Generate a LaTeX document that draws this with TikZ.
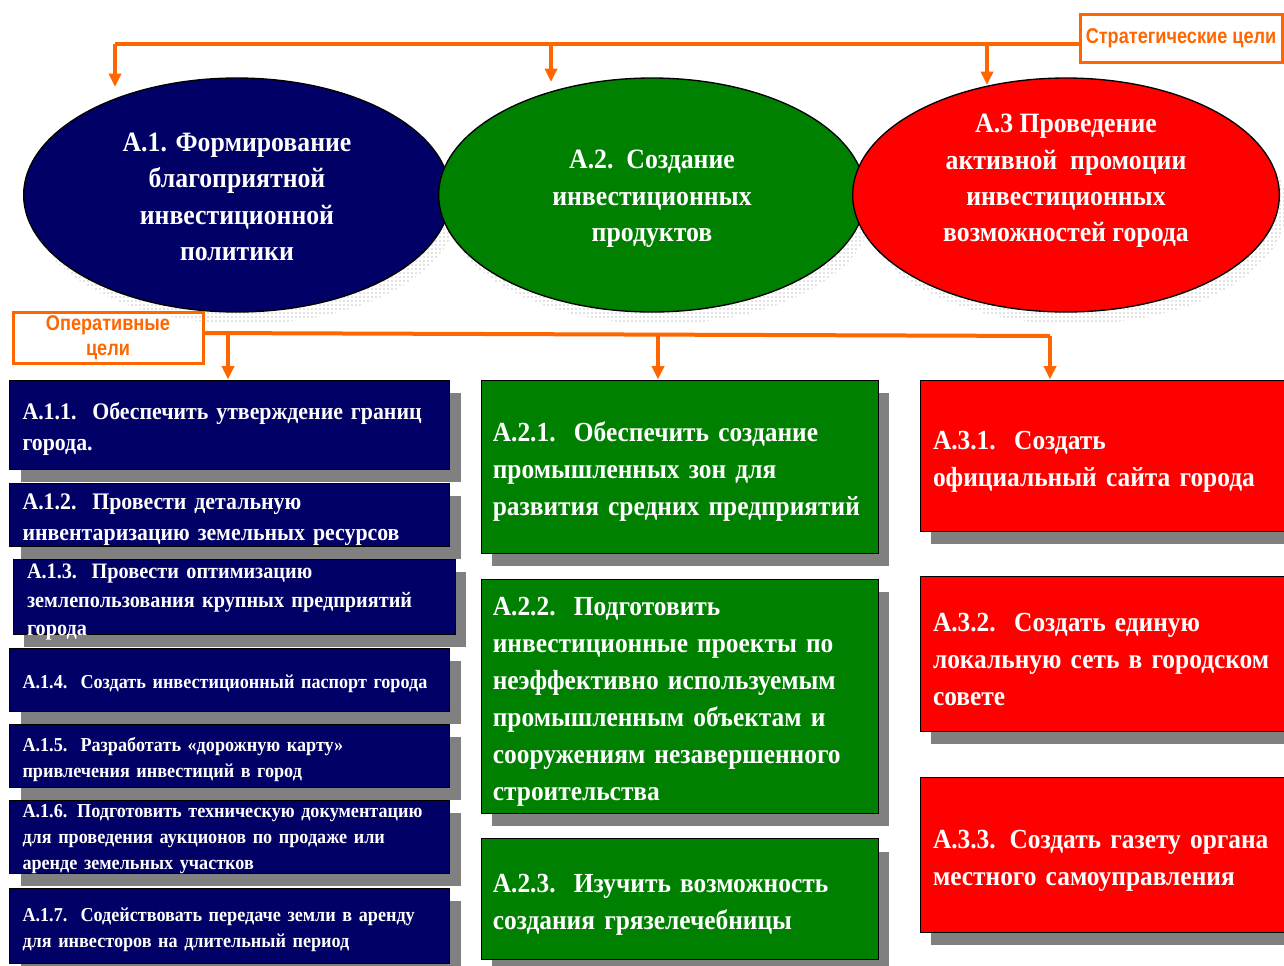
\documentclass[tikz,border=0pt]{standalone}
\usepackage{fontspec}
\setmainfont{Liberation Serif}[FakeStretch=0.92]
\newfontfamily\labelfont[FakeStretch=0.85]{Liberation Sans}
\usetikzlibrary{shapes.geometric,shadows,patterns,arrows.meta}

\definecolor{navy}{RGB}{0,0,102}
\definecolor{leaf}{RGB}{0,128,0}
\definecolor{scarlet}{RGB}{255,0,0}
\definecolor{tangerine}{RGB}{255,102,0}
\definecolor{shade}{RGB}{128,128,128}

\tikzset{
  aim/.style={ellipse, draw=black, line width=1pt, text=white, align=center,
    minimum width=320pt, minimum height=175.5pt,
    font=\bfseries\fontsize{21}{27.25}\selectfont},
  aimtext/.style={text=white, align=center, font=\bfseries\fontsize{21}{27.25}\selectfont},
  goal/.style={rectangle, draw=black, line width=0.75pt, inner sep=0pt, text=white,
    align=left, execute at begin node={\rule{0pt}{1.1em}},
    drop shadow={shadow xshift=8.25pt, shadow yshift=-9.75pt, fill=shade, opacity=1}},
  navygoal/.style={goal, fill=navy, minimum width=330pt, text width=310.5pt},
  leafgoal/.style={goal, fill=leaf, minimum width=297.75pt, text width=280pt,
    font=\bfseries\fontsize{20.7}{27.75}\selectfont},
  redgoal/.style={goal, fill=scarlet, minimum width=285pt, text width=265.5pt,
    font=\bfseries\fontsize{20.7}{27.75}\selectfont},
  goaltext/.style={text=white, align=left, text width=310.5pt, inner sep=0pt},
  bigtxt/.style={font=\bfseries\fontsize{17.8}{23.75}\selectfont},
  smalltxt/.style={font=\bfseries\fontsize{14.8}{19.75}\selectfont},
  tag/.style={rectangle, draw=tangerine, line width=2.25pt, text=tangerine, align=center,
    inner sep=0pt, font=\labelfont\bfseries\fontsize{16}{18.75}\selectfont},
  feed/.style={draw=tangerine, line width=3pt},
  feeder/.style={feed, -{Triangle[length=10pt,width=9pt]}}
}

\begin{document}
\begin{tikzpicture}[x=0.75pt,y=-0.75pt]
  \useasboundingbox (0,0) rectangle (1284,965);
  \clip (0,0) rectangle (1284,965);

  % shadows of the strategic goals
  \foreach \cx in {237,652,1066}
    \fill[pattern=dots, pattern color=shade] (\cx+8,207) ellipse (213 and 117);

  % strategic goals
  \node[aim, fill=navy] (a1) at (237,195) {};
  \node[aimtext] (a1txt) at ([yshift=-1.5pt]a1.center)
    {А.1. Формирование\\благоприятной\\инвестиционной\\политики};
  \node[aim, fill=leaf] (a2) at (652,195) {};
  \node[aimtext] (a2txt) at ([yshift=-3pt]a2.center)
    {А.2.\ \ Создание\\инвестиционных\\продуктов};
  \node[aim, fill=scarlet] (a3) at (1066,195) {};
  \node[aimtext] (a3txt) at ([yshift=10.5pt]a3.center)
    {А.3 Проведение\\активной\ \ промоции\\инвестиционных\\возможностей города};

  % labels
  \node[tag, minimum width=151.5pt, minimum height=36pt] (strat) at (1181,38)
    {Стратегические цели};
  \node[tag, minimum width=142.5pt, minimum height=38.25pt] (oper) at (108,337.5)
    {Оперативные\\цели};

  % top arrows
  \coordinate (sbar) at (1080,44);
  \coordinate (s1) at (115,44);
  \coordinate (s2) at (551,44);
  \coordinate (s3) at (987,44);
  \coordinate (t1) at (115,87);
  \coordinate (t2) at (551,82);
  \coordinate (t3) at (987,85);
  \draw[feed] (strat.west |- sbar) -- (s1);
  \foreach \i in {1,2,3}
    \draw[feeder] (s\i) -- (t\i);

  % operative goals, column A.1
  \node[navygoal, bigtxt, minimum height=89*0.75pt] (a11) at (229.5,424.5)
    {А.1.1.\ \ Обеспечить утверждение границ\\города.};
  \node[navygoal, bigtxt, minimum height=63*0.75pt] (a12) at (229.5,514.5)
    {А.1.2.\ \ Провести детальную\\инвентаризацию земельных ресурсов};
  \node[navygoal, minimum width=331.5pt, minimum height=75*0.75pt] (a13) at (234,596.5) {};
  \node[goaltext, font=\bfseries\fontsize{16.5}{21.4}\selectfont] (a13txt) at ([yshift=-4.5pt]a13.center)
    {А.1.3.\ \ Провести оптимизацию\\землепользования крупных предприятий\\города};
  \node[navygoal, smalltxt, minimum height=63*0.75pt] (a14) at (229.5,679.5)
    {А.1.4.\ \ Создать инвестиционный паспорт города};
  \node[navygoal, smalltxt, minimum height=63*0.75pt] (a15) at (229.5,755.5)
    {А.1.5.\ \ Разработать «дорожную карту»\\привлечения инвестиций в город};
  \node[navygoal, minimum height=73*0.75pt] (a16) at (229.5,836.5) {};
  \node[goaltext, smalltxt] (a16txt) at ([yshift=-2pt]a16.center)
    {А.1.6. Подготовить техническую документацию\\для проведения аукционов по продаже или\\аренде земельных участков};
  \node[navygoal, smalltxt, minimum height=75*0.75pt] (a17) at (229.5,925.5)
    {А.1.7.\ \ Содействовать передаче земли в аренду\\для инвесторов на длительный период};

  % column A.2
  \node[leafgoal, minimum height=173*0.75pt] (a21) at (679.5,466.5)
    {А.2.1.\ \ Обеспечить создание\\промышленных зон для\\развития средних предприятий};
  \node[leafgoal, minimum height=234*0.75pt] (a22) at (679.5,696)
    {А.2.2.\ \ Подготовить\\инвестиционные проекты по\\неэффективно используемым\\промышленным объектам и\\сооружениям незавершенного\\строительства};
  \node[leafgoal, minimum height=121*0.75pt] (a23) at (679.5,899)
    {А.2.3.\ \ Изучить возможность\\создания грязелечебницы};

  % column A.3
  \node[redgoal, minimum height=151*0.75pt] (a31) at (1110,455.5)
    {А.3.1.\ \ Создать\\официальный сайта города};
  \node[redgoal, minimum height=155*0.75pt] (a32) at (1110,653.5)
    {А.3.2.\ \ Создать единую\\локальную сеть в городском\\совете};
  \node[redgoal, minimum height=155*0.75pt] (a33) at (1110,854.5)
    {А.3.3. Создать газету органа\\местного самоуправления};

  % bottom arrows
  \coordinate (o1) at (228,333);
  \coordinate (o2) at (658,335);
  \coordinate (o3) at (1050,336);
  \draw[feed] (oper.east |- o1) -- (o3);
  \draw[feeder] (o1) -- (o1 |- a11.north);
  \draw[feeder] (o2) -- (o2 |- a21.north);
  \draw[feeder] (o3) -- (o3 |- a31.north);

\end{tikzpicture}
\end{document}
